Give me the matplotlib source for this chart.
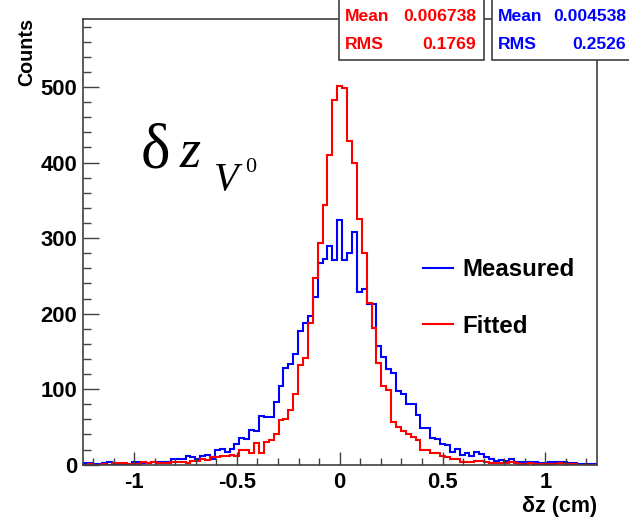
import numpy as np
from matplotlib import pyplot as plt
from matplotlib.patches import Rectangle

plt.rcParams['font.family'] = ['Liberation Sans', 'DejaVu Sans']
plt.rcParams['font.weight'] = 'bold'

# гистограммы dz: 105 бинов на [-1.25, 1.25]
x_min, x_max, n_bins = -1.25, 1.25, 105

fitted = [
    0, 1, 0, 0, 1, 0,
    2, 2, 2, 1, 1, 1,
    3, 2, 4, 2, 2, 2,
    4, 3, 3, 2, 5, 5,
    7, 6, 10, 10, 12, 11, 13, 12,
    20, 19, 15, 29, 15, 30, 33, 41, 59, 60,
    72, 94, 132, 141, 187, 247, 294, 344, 410, 483,
    501, 498, 429, 399, 325, 280, 214, 181, 134, 104,
    99, 56, 50, 44, 41, 37, 33, 20, 19, 15, 16,
    12, 10, 8, 7, 4, 4, 3, 5, 5, 3, 2, 2,
    2, 2, 3, 2, 1, 1, 2, 1, 1, 1, 1, 1, 2, 1, 1, 1, 0, 0, 0, 0,
]
measured = [
    2, 2, 1, 1, 2, 3,
    1, 1, 1, 1, 3, 3,
    2, 2, 3, 4, 4, 4,
    8, 7, 7, 11, 10, 8,
    11, 13, 8, 19, 21, 17, 21, 28,
    35, 34, 46, 44, 64, 63, 63, 83, 104, 128,
    133, 146, 177, 187, 197, 222, 267, 272, 289, 271,
    324, 271, 280, 308, 228, 233, 213, 213, 157, 143,
    127, 122, 97, 93, 80, 81, 66, 48, 48, 36, 34,
    27, 26, 17, 21, 13, 15, 11, 17, 14, 10, 7, 5,
    6, 5, 7, 3, 4, 4, 3, 3, 2, 2, 4, 4, 4, 3, 2, 2, 1, 1, 1, 1,
]
stats_fitted = ['0.006738', '0.1769']
stats_measured = ['0.004538', '0.2526']
x_ticks = [-1, -0.5, 0, 0.5, 1]
x_tick_labels = ['-1', '-0.5', '0', '0.5', '1']
y_ticks = [0, 100, 200, 300, 400, 500]

edges = np.linspace(x_min, x_max, n_bins + 1)

W, H = 629, 519
fig = plt.figure(figsize=(W / 100, H / 100), dpi=100)
ax = fig.add_axes([0.1315, 0.1046, 0.8172, 0.8588])

frame_color = '#404040'
ax.stairs(measured, edges, color='#0000ff', lw=1.5, label='Measured')
ax.stairs(fitted, edges, color='#ff0000', lw=1.5, label='Fitted')

ax.set_xlim(x_min, x_max)
ax.set_ylim(0, 590)
ax.set_xticks(x_ticks)
ax.set_xticklabels(x_tick_labels)
ax.set_xticks(np.arange(-1.2, 1.21, 0.1), minor=True)
ax.set_yticks(y_ticks)
ax.set_yticks(np.arange(0, 581, 20), minor=True)

ax.tick_params(axis='both', which='both', direction='in', color=frame_color,
               labelsize=15.8, width=1.0)
ax.tick_params(axis='y', which='major', length=11.5, pad=4)
ax.tick_params(axis='y', which='minor', length=5.8)
ax.tick_params(axis='x', which='major', length=9.5, pad=5)
ax.tick_params(axis='x', which='minor', length=5)
for s in ax.spines.values():
    s.set_color(frame_color)
    s.set_linewidth(1.2)

fig.text(0.0275, 0.965, 'Counts', rotation=90, ha='left', va='top', fontsize=14.2)
fig.text(0.949, 0.025, 'δz (cm)', ha='right', va='center', fontsize=15.5)


# надпись δz_{V0}, собранная по частям (координаты в пикселях)
def px_text(px, py, s, size, style='normal'):
    fig.text(px / W, 1 - py / H, s, fontsize=size, family='Liberation Serif',
             style=style, weight='normal', va='baseline', ha='left')


px_text(141, 167, 'δ', 45)
px_text(180, 167, 'z', 39, 'italic')
px_text(214, 190, 'V', 29, 'italic')
px_text(245, 172, '0', 16)

ax.legend(loc='upper left', bbox_to_anchor=(0.672, 0.503),
          bbox_transform=fig.transFigure, frameon=False, fontsize=17.3,
          handlelength=1.25, handletextpad=0.42, labelspacing=1.4,
          borderpad=0, borderaxespad=0)


# статистические панели
def stat_box(x0, x1, color, vals, x_val):
    fig.add_artist(Rectangle((x0, 0.8844), x1 - x0, 0.2, transform=fig.transFigure,
                             facecolor='white', edgecolor=frame_color, lw=1.2,
                             clip_on=False))
    fig.text(x0 + 0.0095, 0.969, 'Mean', color=color, fontsize=12.6, va='center')
    fig.text(x0 + 0.0095, 0.914, 'RMS', color=color, fontsize=12.6, va='center')
    fig.text(x_val, 0.969, vals[0], color=color, fontsize=12.6, va='center', ha='right')
    fig.text(x_val, 0.914, vals[1], color=color, fontsize=12.6, va='center', ha='right')


stat_box(0.539, 0.7695, '#ff0000', stats_fitted, 0.7568)
stat_box(0.7817, 1.05, '#0000ff', stats_measured, 0.995)

fig.savefig('out.png', dpi=100)
